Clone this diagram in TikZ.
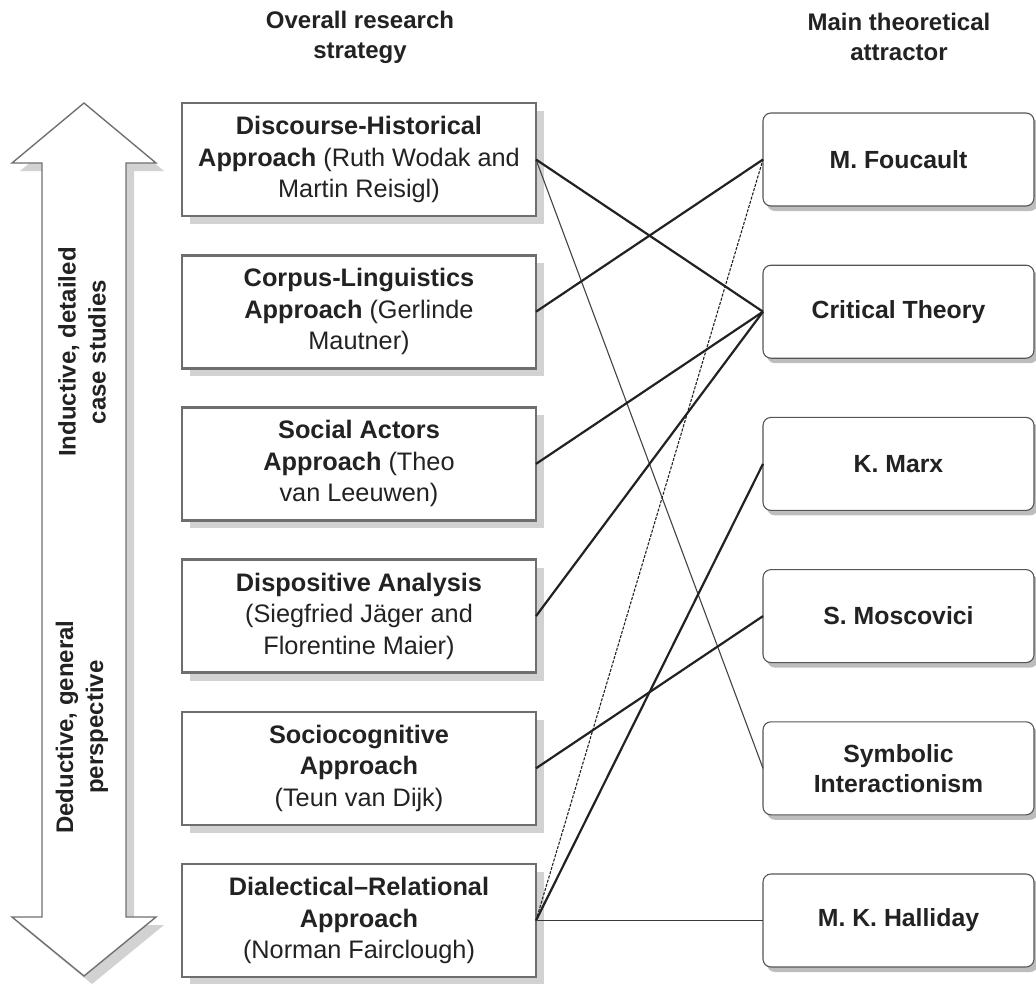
\documentclass[tikz,border=0pt]{standalone}
\usepackage{fontspec}
\setmainfont{Liberation Sans}
\usetikzlibrary{shadows}
\definecolor{ink}{HTML}{222222}
\definecolor{lboxline}{HTML}{6E6E6E}
\definecolor{lshadow}{HTML}{D2D2D2}
\definecolor{rboxline}{HTML}{555555}
\definecolor{rshadow}{HTML}{BDBDBD}
\definecolor{arrline}{HTML}{707070}
\begin{document}
\begin{tikzpicture}[x=1pt,y=-1pt,
  txt/.style={font=\fontsize{25.3}{31.5}\selectfont, text=ink, align=center},
  head/.style={font=\bfseries\fontsize{24}{30}\selectfont, text=ink, align=center},
  lbox/.style={txt, draw=lboxline, line width=2.6pt, fill=white,
     minimum width=354pt, minimum height=113pt, inner sep=0pt, outer sep=0pt,
     drop shadow={shadow xshift=8pt, shadow yshift=-8pt, fill=lshadow, opacity=1}},
  rbox/.style={txt, font=\bfseries\fontsize{24.8}{30}\selectfont, draw=rboxline, line width=1.1pt, fill=white,
     rounded corners=8pt, minimum width=271pt, minimum height=93pt, inner sep=0pt, outer sep=0pt,
     drop shadow={shadow xshift=4pt, shadow yshift=-5pt, fill=rshadow, opacity=1}},
  thick link/.style={draw=ink, line width=2.2pt},
  thin link/.style={draw=ink!85, line width=1.1pt},
  dash link/.style={draw=ink, line width=1.1pt, dash pattern=on 3pt off 1.4pt},
  flat link/.style={draw=ink!90, line width=1.6pt},
  arrowtext/.style={font=\bfseries\fontsize{24}{30}\selectfont, text=ink, align=center, rotate=90}
]
\useasboundingbox (0,0) rectangle (1036,983);

% headers
\node[head] (h1) at (360,37) {Overall research\\strategy};
\node[head] (h2) at (899,37) {Main theoretical\\attractor};

% double arrow
\fill[lshadow] (92,111) -- (164,171) -- (134,171) -- (134,925) -- (164,925) -- (92,984)
   -- (20,925) -- (50,925) -- (50,171) -- (20,171) -- cycle;
\draw[arrline, line width=1.4pt, fill=white, line join=miter]
   (84,103) -- (156,163) -- (126,163) -- (126,917) -- (156,917) -- (84,976)
   -- (12,917) -- (42,917) -- (42,163) -- (12,163) -- cycle;
\node[arrowtext] (up) at (82,352) {Inductive, detailed\\case studies};
\node[arrowtext] (down) at (82,727) {Deductive, general\\perspective};

% left boxes
\node[lbox] (L1) at (359,159.5) {\textbf{Discourse-Historical}\\\textbf{Approach} (Ruth Wodak and\\Martin Reisigl)};
\node[lbox] (L2) at (359,311.7) {\textbf{Corpus-Linguistics}\\\textbf{Approach} (Gerlinde\\Mautner)};
\node[lbox] (L3) at (359,463.9) {\textbf{Social Actors}\\\textbf{Approach} (Theo\\van Leeuwen)};
\node[lbox] (L4) at (359,616.1) {\textbf{Dispositive Analysis}\\(Siegfried Jäger and\\Florentine Maier)};
\node[lbox] (L5) at (359,768.3) {\textbf{Sociocognitive}\\\textbf{Approach}\\(Teun van Dijk)};
\node[lbox] (L6) at (359,920.5) {\textbf{Dialectical–Relational}\\\textbf{Approach}\\(Norman Fairclough)};

% right boxes
\node[rbox] (R1) at (898.5,159.5) {M. Foucault};
\node[rbox] (R2) at (898.5,311.7) {Critical Theory};
\node[rbox] (R3) at (898.5,463.9) {K. Marx};
\node[rbox] (R4) at (898.5,616.1) {S. Moscovici};
\node[rbox] (R5) at (898.5,768.3) {Symbolic\\Interactionism};
\node[rbox] (R6) at (898.5,920.5) {M. K. Halliday};

% connectors
\draw[thin link] (L1.east) -- (R5.west);
\draw[dash link] (L6.east) -- (R1.west);
\draw[thick link] (L1.east) -- (R2.west);
\draw[thick link] (L2.east) -- (R1.west);
\draw[thick link] (L3.east) -- (R2.west);
\draw[thick link] (L4.east) -- (R2.west);
\draw[thick link] (L5.east) -- (R4.west);
\draw[thick link] (L6.east) -- (R3.west);
\draw[flat link] (L6.east) -- (R6.west);
\end{tikzpicture}
\end{document}
